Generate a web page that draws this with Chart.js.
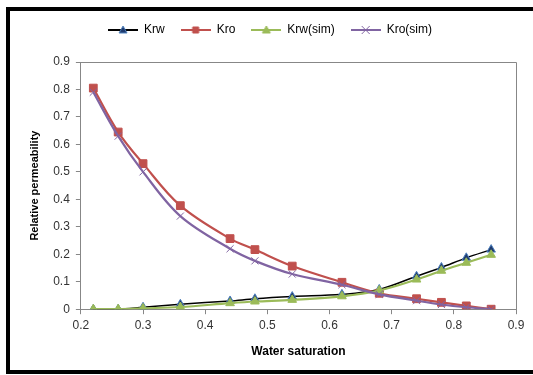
<!DOCTYPE html>
<html>
<head>
<meta charset="utf-8">
<script src="https://cdn.jsdelivr.net/npm/chart.js@4.4.1/dist/chart.umd.min.js"></script>
<style>
  html, body { margin: 0; padding: 0; background: #fff; }
  #wrap { position: relative; width: 533px; height: 375px; }
</style>
</head>
<body>
<div id="wrap"><canvas id="chart" width="533" height="375"></canvas></div>
<script>
// water saturation (x) and the four curves
var waterSat = [0.22, 0.26, 0.30, 0.36, 0.44, 0.48, 0.54, 0.62, 0.68, 0.74, 0.78, 0.82, 0.86];
var krw    = [0, 0, 0.007, 0.018, 0.030, 0.038, 0.046, 0.054, 0.072, 0.120, 0.152, 0.187, 0.217];
var kro    = [0.805, 0.645, 0.530, 0.377, 0.257, 0.217, 0.157, 0.098, 0.058, 0.038, 0.025, 0.012, 0];
var krwSim = [0, 0, 0.003, 0.008, 0.022, 0.028, 0.034, 0.047, 0.068, 0.108, 0.140, 0.169, 0.198];
var kroSim = [0.790, 0.630, 0.500, 0.339, 0.220, 0.176, 0.128, 0.089, 0.054, 0.031, 0.017, 0.007, 0];

var seriesNames = ['Krw', 'Kro', 'Krw(sim)', 'Kro(sim)'];
var xTicks = [0.2, 0.3, 0.4, 0.5, 0.6, 0.7, 0.8, 0.9];
var yTicks = [0, 0.1, 0.2, 0.3, 0.4, 0.5, 0.6, 0.7, 0.8, 0.9];

function pts(ys) {
    return ys.map(function (y, i) { return {x: waterSat[i], y: y}; });
}

// little line + marker picture for the legend, like excel does it
function legendIcon(lineColor, fill, stroke, shape) {
    var c = document.createElement('canvas');
    c.width = 30; c.height = 10;
    var g = c.getContext('2d');
    g.strokeStyle = lineColor;
    g.lineWidth = 2;
    g.beginPath(); g.moveTo(0, 5); g.lineTo(30, 5); g.stroke();
    g.fillStyle = fill;
    g.strokeStyle = stroke;
    g.lineWidth = 1;
    g.beginPath();
    if (shape === 'triangle') {
        g.moveTo(15, 1); g.lineTo(19, 8); g.lineTo(11, 8); g.closePath();
        g.fill(); g.stroke();
    } else if (shape === 'rect') {
        g.rect(12, 2, 6, 6);
        g.fill(); g.stroke();
    } else {
        g.moveTo(11, 1); g.lineTo(19, 9); g.moveTo(19, 1); g.lineTo(11, 9);
        g.stroke();
    }
    return c;
}

var icons = [
    legendIcon('#000000', '#1F3A6E', '#4F81BD', 'triangle'),
    legendIcon('#C0504D', '#C0504D', '#C0504D', 'rect'),
    legendIcon('#9BBB59', '#9BBB59', '#9BBB59', 'triangle'),
    legendIcon('#8064A2', '#8064A2', '#8064A2', 'cross')
];

var framePlugin = {
    id: 'frame',
    beforeInit: function (chart) {
        var fit = chart.legend.fit;
        chart.legend.fit = function () {
            fit.bind(chart.legend)();
            this.height += 16;
        };
    },
    afterDraw: function (chart) {
        var ctx = chart.ctx, a = chart.chartArea;
        ctx.save();
        ctx.strokeStyle = '#878787';
        ctx.lineWidth = 1;
        ctx.beginPath();
        ctx.moveTo(a.left, a.top + 0.5);
        ctx.lineTo(a.right + 0.5, a.top + 0.5);
        ctx.lineTo(a.right + 0.5, a.bottom);
        ctx.stroke();
        // thick black outline (right side is cut off in the picture)
        ctx.fillStyle = '#000';
        ctx.fillRect(6, 7, 527, 4);
        ctx.fillRect(6, 7, 4, 367);
        ctx.fillRect(6, 370, 527, 4);
        ctx.restore();
    }
};

var fmt = function (v) { return String(+v.toFixed(1)); };

new Chart(document.getElementById('chart'), {
    type: 'line',
    data: {
        datasets: [
            {label: seriesNames[0], data: pts(krw), borderColor: '#000000', borderWidth: 1.5, order: 4,
             pointStyle: 'triangle', pointRadius: 5, pointBackgroundColor: '#1F3A6E', pointBorderColor: '#4F81BD', pointBorderWidth: 1},
            {label: seriesNames[1], data: pts(kro), borderColor: '#C0504D', borderWidth: 2.2, order: 3,
             pointStyle: 'rect', pointRadius: 5.5, pointBackgroundColor: '#C0504D', pointBorderColor: '#C0504D', pointBorderWidth: 1},
            {label: seriesNames[2], data: pts(krwSim), borderColor: '#9BBB59', borderWidth: 2.2, order: 2,
             pointStyle: 'triangle', pointRadius: 5, pointBackgroundColor: '#9BBB59', pointBorderColor: '#9BBB59', pointBorderWidth: 1},
            {label: seriesNames[3], data: pts(kroSim), borderColor: '#8064A2', borderWidth: 2.2, order: 1,
             pointStyle: 'crossRot', pointRadius: 5, pointBackgroundColor: '#8064A2', pointBorderColor: '#8064A2', pointBorderWidth: 1}
        ]
    },
    options: {
        responsive: false,
        animation: false,
        layout: {padding: {top: 8, left: 24, right: 17, bottom: 12}},
        elements: {line: {tension: 0.35, fill: false}},
        plugins: {
            tooltip: {enabled: false},
            legend: {
                position: 'top',
                labels: {
                    usePointStyle: true,
                    pointStyleWidth: 30,
                    padding: 16,
                    color: '#1a1a1a',
                    font: {family: 'Liberation Sans', size: 12},
                    generateLabels: function (chart) {
                        return chart.data.datasets.map(function (ds, i) {
                            return {text: ds.label, pointStyle: icons[i], datasetIndex: i,
                                    fillStyle: ds.borderColor, strokeStyle: ds.borderColor, lineWidth: 0, hidden: false};
                        });
                    }
                }
            }
        },
        scales: {
            x: {
                type: 'linear', min: 0.2, max: 0.9,
                afterBuildTicks: function (s) { s.ticks = xTicks.map(function (v) { return {value: v}; }); },
                ticks: {callback: fmt, color: '#333', font: {family: 'Liberation Sans', size: 12}, padding: 4},
                grid: {drawOnChartArea: false, color: '#878787', tickLength: 5},
                border: {color: '#878787'},
                title: {display: true, text: 'Water saturation', color: '#000',
                        font: {family: 'Liberation Sans', size: 12, weight: 'bold'}, padding: {top: 8}}
            },
            y: {
                min: 0, max: 0.9,
                afterBuildTicks: function (s) { s.ticks = yTicks.map(function (v) { return {value: v}; }); },
                ticks: {callback: fmt, color: '#333', font: {family: 'Liberation Sans', size: 12}, padding: 6},
                grid: {drawOnChartArea: false, color: '#878787', tickLength: 5},
                border: {color: '#878787'},
                title: {display: true, text: 'Relative permeability', color: '#000',
                        font: {family: 'Liberation Sans', size: 11, weight: 'bold'}, padding: {bottom: 6}}
            }
        }
    },
    plugins: [framePlugin]
});
</script>
</body>
</html>
